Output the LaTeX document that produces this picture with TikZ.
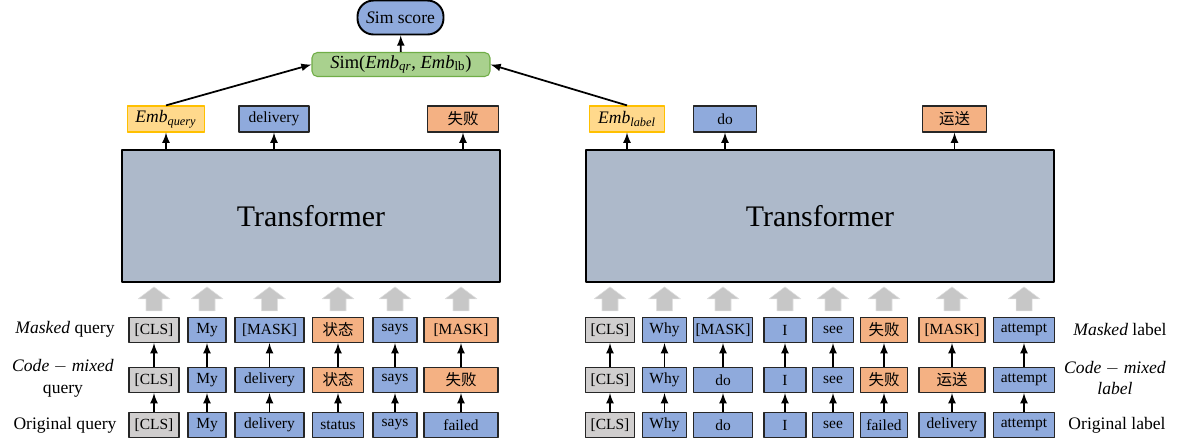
\documentclass[tikz,border=0pt]{standalone}
\usepackage{fontspec}
\setmainfont{Liberation Serif}
\newfontfamily\cjk{Noto Sans CJK SC}
\usetikzlibrary{calc}
\definecolor{tokblue}{RGB}{143,170,220}
\definecolor{tokorange}{RGB}{244,177,131}
\definecolor{tokgray}{RGB}{208,206,206}
\definecolor{embyellow}{RGB}{255,217,140}
\definecolor{embborder}{RGB}{255,192,0}
\definecolor{tfgray}{RGB}{173,185,202}
\definecolor{simgreen}{RGB}{169,209,142}
\definecolor{simborder}{RGB}{112,173,71}

\tikzset{
    tok/.style={draw=black!85, line width=0.7pt, inner sep=0pt, minimum height=0.5cm, font=\fontsize{8.8}{10}\selectfont},
    bluetok/.style={tok, fill=tokblue},
    orangetok/.style={tok, fill=tokorange},
    clstok/.style={tok, fill=tokgray},
    outtok/.style={tok, minimum height=0.52cm},
    embtok/.style={outtok, fill=embyellow, draw=embborder, font=\fontsize{10}{12}\selectfont},
    tfbox/.style={draw=black, fill=tfgray, line width=1.4pt, minimum height=2.64cm, font=\fontsize{17}{20}\selectfont},
    rowlabel/.style={align=center, font=\fontsize{10}{12.5}\selectfont},
    tokarrow/.style={-latex, line width=1pt},
    grayarrow/.style={fill=black!22, draw=black!12, line width=0.3pt}
}

\begin{document}
\begin{tikzpicture}[x=0.02cm, y=-0.02cm, line join=round]
    \useasboundingbox (0,0) rectangle (1183,443);
    %Transformers
    \node[tfbox, minimum width=7.56cm] (tfq) at (311,216) {Transformer};
    \node[tfbox, minimum width=9.36cm] (tfl) at (820,216) {Transformer};

        %Query Side Tokens
    %Original Query
    \node[clstok, minimum width=1.0cm] (qo1) at (154,425) {[CLS]};
    \node[bluetok, minimum width=0.76cm] (qo2) at (207,425) {My};
    \node[bluetok, minimum width=1.38cm] (qo3) at (269.5,425) {delivery};
    \node[bluetok, minimum width=1.02cm] (qo4) at (338,425) {status};
    \node[bluetok, minimum width=0.88cm] (qo5) at (395,425) {says};
    \node[bluetok, minimum width=1.48cm] (qo6) at (461,425) {failed};
    %Code-mixed Query
    \node[clstok, minimum width=1.0cm] (qc1) at (154,380) {[CLS]};
    \node[bluetok, minimum width=0.76cm] (qc2) at (207,380) {My};
    \node[bluetok, minimum width=1.38cm] (qc3) at (269.5,380) {delivery};
    \node[orangetok, minimum width=1.02cm] (qc4) at (338,380) {\cjk 状态};
    \node[bluetok, minimum width=0.88cm] (qc5) at (395,380) {says};
    \node[orangetok, minimum width=1.48cm] (qc6) at (461,380) {\cjk 失败};
    %Masked Query
    \node[clstok, minimum width=1.0cm] (qm1) at (154,330) {[CLS]};
    \node[bluetok, minimum width=0.76cm] (qm2) at (207,330) {My};
    \node[bluetok, minimum width=1.38cm] (qm3) at (269.5,330) {[MASK]};
    \node[orangetok, minimum width=1.02cm] (qm4) at (338,330) {\cjk 状态};
    \node[bluetok, minimum width=0.88cm] (qm5) at (395,330) {says};
    \node[orangetok, minimum width=1.48cm] (qm6) at (461,330) {[MASK]};

        %Label Side Tokens
    %Original Label
    \node[clstok, minimum width=0.97cm] (lo1) at (610,425) {[CLS]};
    \node[bluetok, minimum width=0.88cm] (lo2) at (664.5,425) {Why};
    \node[bluetok, minimum width=1.17cm] (lo3) at (723,425) {do};
    \node[bluetok, minimum width=0.84cm] (lo4) at (785,425) {I};
    \node[bluetok, minimum width=0.81cm] (lo5) at (833,425) {see};
    \node[bluetok, minimum width=0.95cm] (lo6) at (884,425) {failed};
    \node[bluetok, minimum width=1.32cm] (lo7) at (952,425) {delivery};
    \node[bluetok, minimum width=1.22cm] (lo8) at (1024,425) {attempt};
    %Code-mixed Label
    \node[clstok, minimum width=0.97cm] (lc1) at (610,380) {[CLS]};
    \node[bluetok, minimum width=0.88cm] (lc2) at (664.5,380) {Why};
    \node[bluetok, minimum width=1.17cm] (lc3) at (723,380) {do};
    \node[bluetok, minimum width=0.84cm] (lc4) at (785,380) {I};
    \node[bluetok, minimum width=0.81cm] (lc5) at (833,380) {see};
    \node[orangetok, minimum width=0.95cm] (lc6) at (884,380) {\cjk 失败};
    \node[orangetok, minimum width=1.32cm] (lc7) at (952,380) {\cjk 运送};
    \node[bluetok, minimum width=1.22cm] (lc8) at (1024,380) {attempt};
    %Masked Label
    \node[clstok, minimum width=0.97cm] (lm1) at (610,330) {[CLS]};
    \node[bluetok, minimum width=0.88cm] (lm2) at (664.5,330) {Why};
    \node[bluetok, minimum width=1.17cm] (lm3) at (723,330) {[MASK]};
    \node[bluetok, minimum width=0.84cm] (lm4) at (785,330) {I};
    \node[bluetok, minimum width=0.81cm] (lm5) at (833,330) {see};
    \node[orangetok, minimum width=0.95cm] (lm6) at (884,330) {\cjk 失败};
    \node[orangetok, minimum width=1.32cm] (lm7) at (952,330) {[MASK]};
    \node[bluetok, minimum width=1.22cm] (lm8) at (1024,330) {attempt};

        %Row Labels
    \node[rowlabel] (qmlab) at (65,329) {\textit{Masked} query};
    \node[rowlabel] (qclab) at (63,378) {\textit{Code} $-$ \textit{mixed}\\query};
    \node[rowlabel] (qolab) at (65,425) {Original query};
    \node[rowlabel] (lmlab) at (1120,329) {\textit{Masked} label};
    \node[rowlabel] (lclab) at (1115,378) {\textit{Code} $-$ \textit{mixed}\\\textit{label}};
    \node[rowlabel] (lolab) at (1117,425) {Original label};

        %Row Arrows
    \foreach \i in {1,...,6}{
        \draw[tokarrow] (qo\i) -- (qc\i);
        \draw[tokarrow] (qc\i) -- (qm\i);
        \path[grayarrow] ($(qm\i.north)+(-8,-6)$) -- ++(0,-12) -- ++(-8,0) -- ++(16,-12) -- ++(16,12) -- ++(-8,0) -- ++(0,12) -- cycle;
    }
    \foreach \i in {1,...,8}{
        \draw[tokarrow] (lo\i) -- (lc\i);
        \draw[tokarrow] (lc\i) -- (lm\i);
        \path[grayarrow] ($(lm\i.north)+(-8,-6)$) -- ++(0,-12) -- ++(-8,0) -- ++(16,-12) -- ++(16,12) -- ++(-8,0) -- ++(0,12) -- cycle;
    }

        %Output Tokens
    \node[embtok, minimum width=1.54cm] (eq) at (166,119) {\textit{Emb}\textsubscript{\textit{query}}};
    \node[outtok, fill=tokblue, minimum width=1.4cm] (oq2) at (274,119) {delivery};
    \node[outtok, fill=tokorange, minimum width=1.42cm] (oq3) at (463,119) {\cjk 失败};
    \node[embtok, minimum width=1.5cm] (el) at (627,119) {\textit{Emb}\textsubscript{\textit{label}}};
    \node[outtok, fill=tokblue, minimum width=1.26cm] (ol2) at (725,119) {do};
    \node[outtok, fill=tokorange, minimum width=1.28cm] (ol3) at (954.5,119) {\cjk 运送};
    \foreach \n in {eq,oq2,oq3}
        \draw[tokarrow] (tfq.north -| \n) -- (\n.south);
    \foreach \n in {el,ol2,ol3}
        \draw[tokarrow] (tfl.north -| \n) -- (\n.south);

        %Similarity
    \node[draw=simborder, fill=simgreen, line width=0.6pt, rounded corners=3pt, minimum width=3.56cm, minimum height=0.48cm, inner sep=0pt, font=\fontsize{10.5}{12}\selectfont] (sim) at (401,64.5) {\textit{S}im(\textit{Emb}\textsubscript{\textit{qr}}, \textit{Emb}\textsubscript{lb})};
    \node[draw=black, fill=tokblue, line width=1.1pt, rounded corners=0.32cm, minimum width=1.72cm, minimum height=0.68cm, inner sep=0pt, font=\fontsize{10}{12}\selectfont] (score) at (400.5,17.5) {\textit{S}im score};
    \draw[tokarrow] (eq.north) -- (sim.west);
    \draw[tokarrow] (el.north) -- (sim.east);
    \draw[tokarrow] (sim) -- (score);
\end{tikzpicture}
\end{document}
